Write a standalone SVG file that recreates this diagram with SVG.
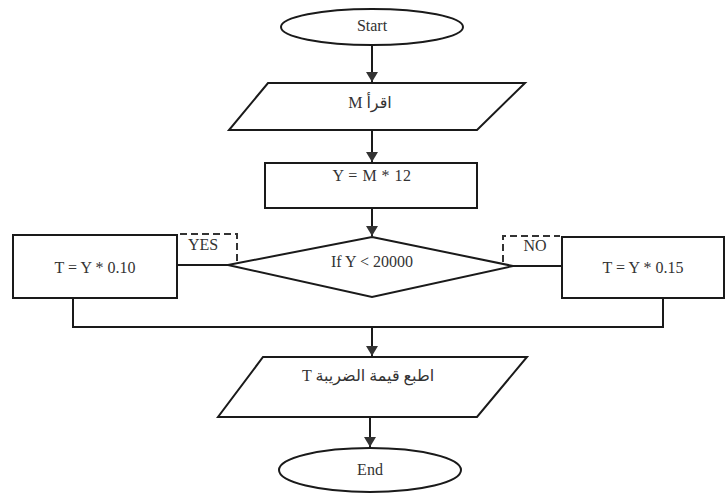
<svg xmlns="http://www.w3.org/2000/svg" width="728" height="493" viewBox="0 0 728 493">
<style>
.s{fill:#fff;stroke:#1a1a1a;stroke-width:2}
.l{fill:none;stroke:#1a1a1a;stroke-width:2}
.d{fill:none;stroke:#333;stroke-width:2;stroke-dasharray:7 4}
.t{font-family:"Liberation Serif","Noto Sans",serif;font-size:16px;fill:#333;text-anchor:middle}
.a{font-family:"Liberation Serif","DejaVu Sans",serif;font-size:16px;fill:#333;text-anchor:middle}
</style>
<defs>
<marker id="ar" markerWidth="12" markerHeight="12" refX="10" refY="6" orient="auto" markerUnits="userSpaceOnUse">
<path d="M0,0 L10,6 L0,12 Z" fill="#333"/>
</marker>
</defs>
<rect width="728" height="493" fill="#fff"/>
<g id="connectors">
<line class="l" x1="372" y1="45" x2="372" y2="82" marker-end="url(#ar)"/>
<line class="l" x1="372" y1="130" x2="372" y2="162" marker-end="url(#ar)"/>
<line class="l" x1="372" y1="208" x2="372" y2="236" marker-end="url(#ar)"/>
<line class="l" x1="177" y1="265" x2="228" y2="265"/>
<line class="l" x1="513" y1="266" x2="562" y2="266"/>
<polyline class="l" points="73,298 73,327 663,327 663,298"/>
<line class="l" x1="372" y1="327" x2="372" y2="356" marker-end="url(#ar)"/>
<line class="l" x1="370" y1="417" x2="370" y2="447" marker-end="url(#ar)"/>
</g>
<g id="start">
<ellipse class="s" cx="372" cy="27" rx="91" ry="18"/>
<text class="t" x="372" y="31" font-size="15">Start</text>
</g>
<g id="read">
<polygon class="s" points="268,83 525,83 477,130 229,130"/>
<text class="a" x="370" y="108">M اقرأ</text>
</g>
<g id="calc">
<rect class="s" x="265" y="163" width="212" height="45"/>
<text class="t" x="372" y="181" letter-spacing="0.5">Y = M * 12</text>
</g>
<g id="decision">
<polygon class="s" points="372,237 513,266 372,297 228,265"/>
<text class="t" x="372" y="267">If Y &lt; 20000</text>
</g>
<g id="yes">
<polyline class="d" points="180,234 237,234 237,262"/>
<text class="t" x="203" y="250">YES</text>
</g>
<g id="no">
<polyline class="d" points="503,262 503,236 560,236"/>
<text class="t" x="535" y="251">NO</text>
</g>
<g id="tax10">
<rect class="s" x="13" y="235" width="164" height="63"/>
<text class="t" x="95" y="273">T = Y * 0.10</text>
</g>
<g id="tax15">
<rect class="s" x="562" y="237" width="162" height="61"/>
<text class="t" x="643" y="273">T = Y * 0.15</text>
</g>
<g id="print">
<polygon class="s" points="263,357 527,357 477,417 218,417"/>
<text class="a" x="368" y="381">T اطبع قيمة الضريبة</text>
</g>
<g id="end">
<ellipse class="s" cx="370" cy="470" rx="91" ry="22"/>
<text class="t" x="370" y="475" font-size="15">End</text>
</g>
</svg>
